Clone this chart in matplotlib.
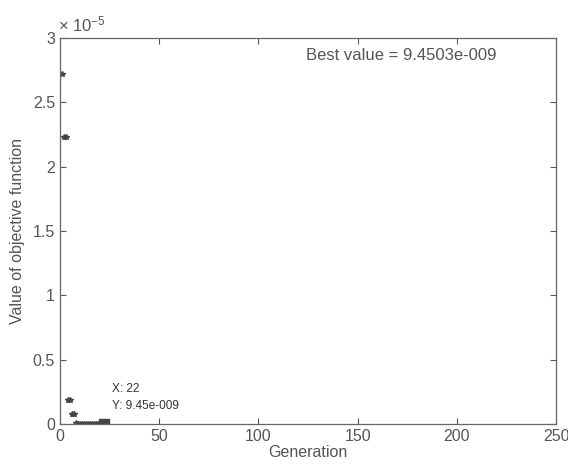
import matplotlib
matplotlib.use("Agg")
import matplotlib.pyplot as plt
import numpy as np

plt.rcParams["font.family"] = ["Liberation Sans", "DejaVu Sans"]
plt.rcParams["mathtext.fontset"] = "custom"
plt.rcParams["mathtext.rm"] = "Liberation Sans"
plt.rcParams["mathtext.it"] = "Liberation Sans"

generations = list(range(1, 23))
values = [2.72e-5, 2.23e-5, 2.23e-5, 0.19e-5, 0.19e-5, 0.075e-5, 0.075e-5,
          0.004e-5, 0.003e-5, 0.002e-5, 0.002e-5, 0.001e-5, 0.001e-5, 0.001e-5,
          0.001e-5, 0.001e-5, 0.001e-5, 0.001e-5, 0.001e-5, 0.001e-5, 0.001e-5,
          9.4503e-9]
best_gen = 22
best_val = 9.4503e-9
xticks = [0, 50, 100, 150, 200, 250]
yticks = [0, 0.5e-5, 1e-5, 1.5e-5, 2e-5, 2.5e-5, 3e-5]
ytick_labels = ["0", "0.5", "1", "1.5", "2", "2.5", "3"]

gray = "#555555"
fig = plt.figure(figsize=(5.68, 4.68), dpi=100)
ax = fig.add_axes([0.1056, 0.094, 0.8734, 0.825])
ax.plot(generations[:-1], values[:-1], linestyle="none", marker="*", color="#444444",
        markersize=4)
ax.plot([best_gen], [best_val], linestyle="none", marker="s", color="#444444",
        markersize=6.5)
ax.set_xlim(0, 250)
ax.set_ylim(0, 3e-5)
ax.set_xticks(xticks)
ax.set_xticklabels([str(t) for t in xticks])
ax.set_yticks(yticks)
ax.set_yticklabels(ytick_labels)
ax.tick_params(direction="in", colors=gray, labelsize=11.5, length=4.5,
               top=True, right=True, width=0.8)
for s in ax.spines.values():
    s.set_color("#666666")
    s.set_linewidth(0.9)
ax.set_xlabel("Generation", color=gray, fontsize=11.5, labelpad=1)
ax.set_ylabel("Value of objective function", color=gray, fontsize=11.5, labelpad=6)
ax.text(-0.005, 1.008, r"$\times$ 10$^{-5}$", transform=ax.transAxes, color=gray,
        fontsize=12, ha="left", va="bottom")
ax.text(0.88, 0.955, "Best value = 9.4503e-009", transform=ax.transAxes,
        color=gray, fontsize=12, ha="right", va="center")
ax.text(26, 0.27e-5, "X: 22", color="#333333", fontsize=8.5, ha="left", va="center")
ax.text(26, 0.14e-5, "Y: 9.45e-009", color="#333333", fontsize=8.5, ha="left", va="center")
fig.savefig("out.png", dpi=100)
